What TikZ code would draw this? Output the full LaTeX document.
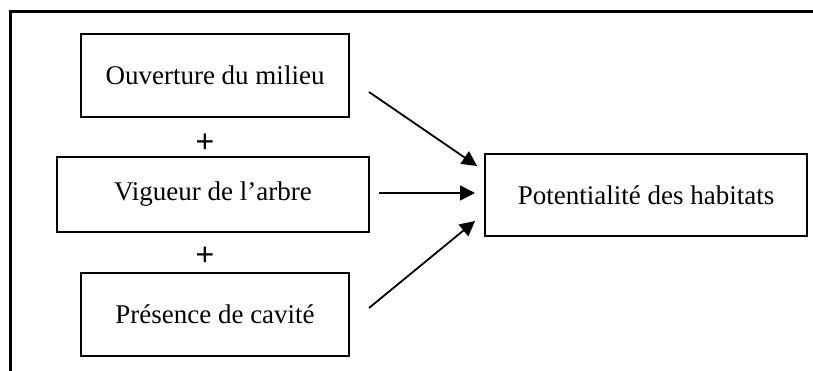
\documentclass[tikz,border=0pt]{standalone}
\usepackage{fontspec}
\setmainfont{Liberation Serif}
\newfontfamily\plusfont{Liberation Sans}
\usetikzlibrary{arrows.meta}
\tikzset{
  factor/.style={draw, rectangle, line width=2pt, minimum width=268pt, minimum height=83pt},
  plus/.style={font=\plusfont\fontsize{32}{36}\selectfont, inner sep=0pt},
  link/.style={-{Triangle[length=15pt,width=15pt]}, line width=1.8pt}
}
\begin{document}
\begin{tikzpicture}[black, x=1pt, y=-1pt, font=\fontsize{27}{32}\selectfont]
    \newcommand\XL{215}
    \newcommand\XR{646}
    \newcommand\YA{75.5}
    \newcommand\YB{194.5}
    \newcommand\YC{314.5}
    \useasboundingbox (0,0) rectangle (813,371);
    \draw[line width=3pt] (813,12) -- (10,12) -- (10,371);
    \node[factor] (OM) at (\XL, \YA){Ouverture du milieu};
    \node[factor, minimum width=312pt, minimum height=75pt] (VA) at (\XL-2, \YB){Vigueur de l’arbre};
    \node[factor] (PC) at (\XL, \YC){Présence de cavité};
    \node[factor, minimum width=322pt, minimum height=82pt] (PH) at (\XR, \YB+0.5){Potentialité des habitats};
    \node[plus] (P1) at (205, 143){+};
    \node[plus] (P2) at (205, 256){+};
    \coordinate (S1) at (369, 92);
    \coordinate (S2) at (379, 193);
    \coordinate (S3) at (369, 308);
    \coordinate (E1) at (477, 166);
    \coordinate (E2) at (475, 193);
    \coordinate (E3) at (475, 221);
    \draw[link] (S1) -- (E1);
    \draw[link] (S2) -- (E2);
    \draw[link] (S3) -- (E3);
\end{tikzpicture}
\end{document}
